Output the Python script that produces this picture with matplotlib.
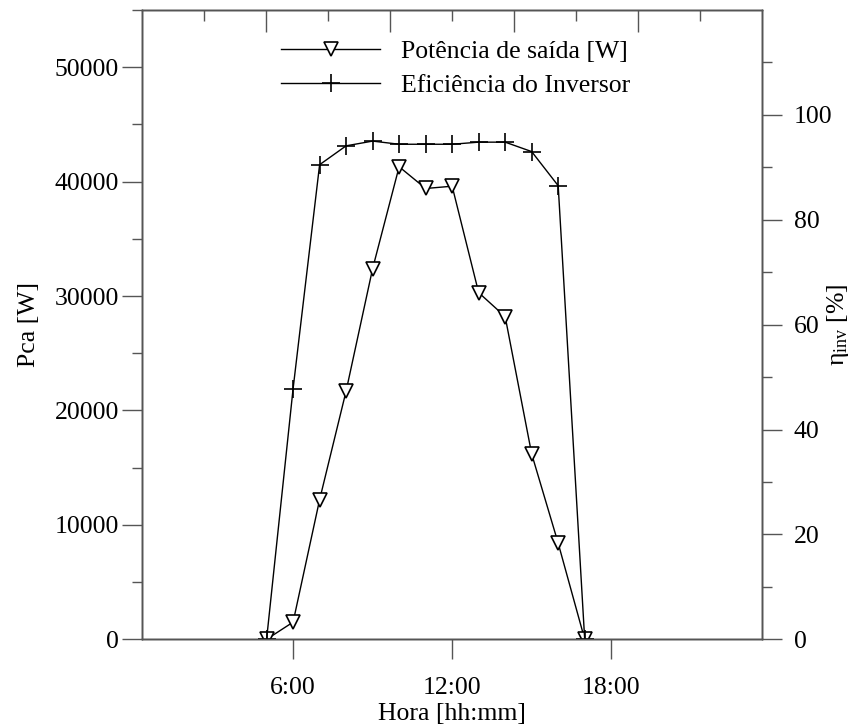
import matplotlib
matplotlib.use("Agg")
import matplotlib.pyplot as plt
from matplotlib.ticker import MultipleLocator, FixedLocator

plt.rcParams['font.family'] = ['Liberation Serif', 'DejaVu Serif']
plt.rcParams['mathtext.fontset'] = 'custom'
plt.rcParams['mathtext.rm'] = 'Liberation Serif'
plt.rcParams['mathtext.it'] = 'Liberation Serif:italic'

# Hourly readings (hour of day)
hours = [5, 6, 7, 8, 9, 10, 11, 12, 13, 14, 15, 16, 17]
# AC output power [W]
potencia = [0, 1500, 12200, 21700, 32400, 41300, 39400, 39600, 30300, 28200, 16200, 8400, 0]
# Inverter efficiency [%]
eficiencia = [0, 47.8, 90.5, 94.1, 95.0, 94.4, 94.4, 94.4, 94.8, 94.8, 93.0, 86.5, 0]

x_ticks = [6, 12, 18]
x_ticklabels = ["6:00", "12:00", "18:00"]

spine_col = '#555555'
fs = 18.5

fig = plt.figure(figsize=(8.53, 7.27), dpi=100)
ax = fig.add_axes([142/853, 1 - 639.3/727, (762.3 - 142)/853, (639.3 - 10)/727])
ax2 = ax.twinx()
ax3 = ax.twiny()

l1, = ax.plot(hours, potencia, color='black', lw=1.0, marker='v', ms=10.5,
              mfc='white', mec='black', mew=1.2, label='Potência de saída [W]', zorder=3)
l2, = ax2.plot(hours, eficiencia, color='black', lw=1.0, marker='+', ms=13,
               mew=1.2, label='Eficiência do Inversor', zorder=3)

ax.set_xlim(0.3, 23.7)
ax.set_ylim(0, 55000)
ax2.set_ylim(0, 120)

ax.set_xticks(x_ticks)
ax.set_xticklabels(x_ticklabels)
ax.yaxis.set_major_locator(MultipleLocator(10000))
ax.yaxis.set_minor_locator(FixedLocator([5000, 15000, 25000, 35000, 45000, 55000]))
ax2.yaxis.set_major_locator(FixedLocator([0, 20, 40, 60, 80, 100]))
ax2.yaxis.set_minor_locator(FixedLocator([10, 30, 50, 70, 90, 110]))

# top edge: plain inward ticks in axes fraction
ax3.set_xlim(0, 1)
ax3.xaxis.set_major_locator(FixedLocator([0.2, 0.4, 0.6, 0.8]))
ax3.xaxis.set_minor_locator(FixedLocator([0.1, 0.3, 0.5, 0.7, 0.9]))
ax3.tick_params(axis='x', which='major', direction='in', length=15.5, width=1.0,
                color=spine_col, labeltop=False)
ax3.tick_params(axis='x', which='minor', direction='in', length=7.7, width=1.0,
                color=spine_col)

ax.tick_params(axis='x', which='major', direction='out', length=14.5, width=1.0,
               color=spine_col, labelsize=fs, pad=13)
ax.tick_params(axis='y', which='major', direction='out', length=14.5, width=1.0,
               color=spine_col, labelsize=fs, pad=2)
ax.tick_params(axis='y', which='minor', direction='out', length=7.2, width=1.0,
               color=spine_col)
ax2.tick_params(axis='y', which='major', direction='out', length=14.5, width=1.0,
                color=spine_col, labelsize=fs, pad=8)
ax2.tick_params(axis='y', which='minor', direction='out', length=7.2, width=1.0,
                color=spine_col)

for a in (ax, ax2, ax3):
    for s in a.spines.values():
        s.set_color(spine_col)
        s.set_linewidth(1.0)

ax.set_xlabel('Hora [hh:mm]', fontsize=fs)
ax.set_ylabel('Pca [W]', fontsize=fs)
ax2.set_ylabel('η$_{\\mathrm{inv}}$ [%]', fontsize=fs)
ax.xaxis.set_label_coords(0.5, -0.101)
ax.yaxis.set_label_coords(-0.1644, 0.5)
ax2.yaxis.set_label_coords(1.101, 0.5)

ax.legend(handles=[l1, l2], loc='upper left', bbox_to_anchor=(0.208, 0.969),
          frameon=False, fontsize=fs, handlelength=3.85, handletextpad=0.8,
          labelspacing=0.43, numpoints=1, borderaxespad=0)

fig.savefig('out.png', dpi=100)
